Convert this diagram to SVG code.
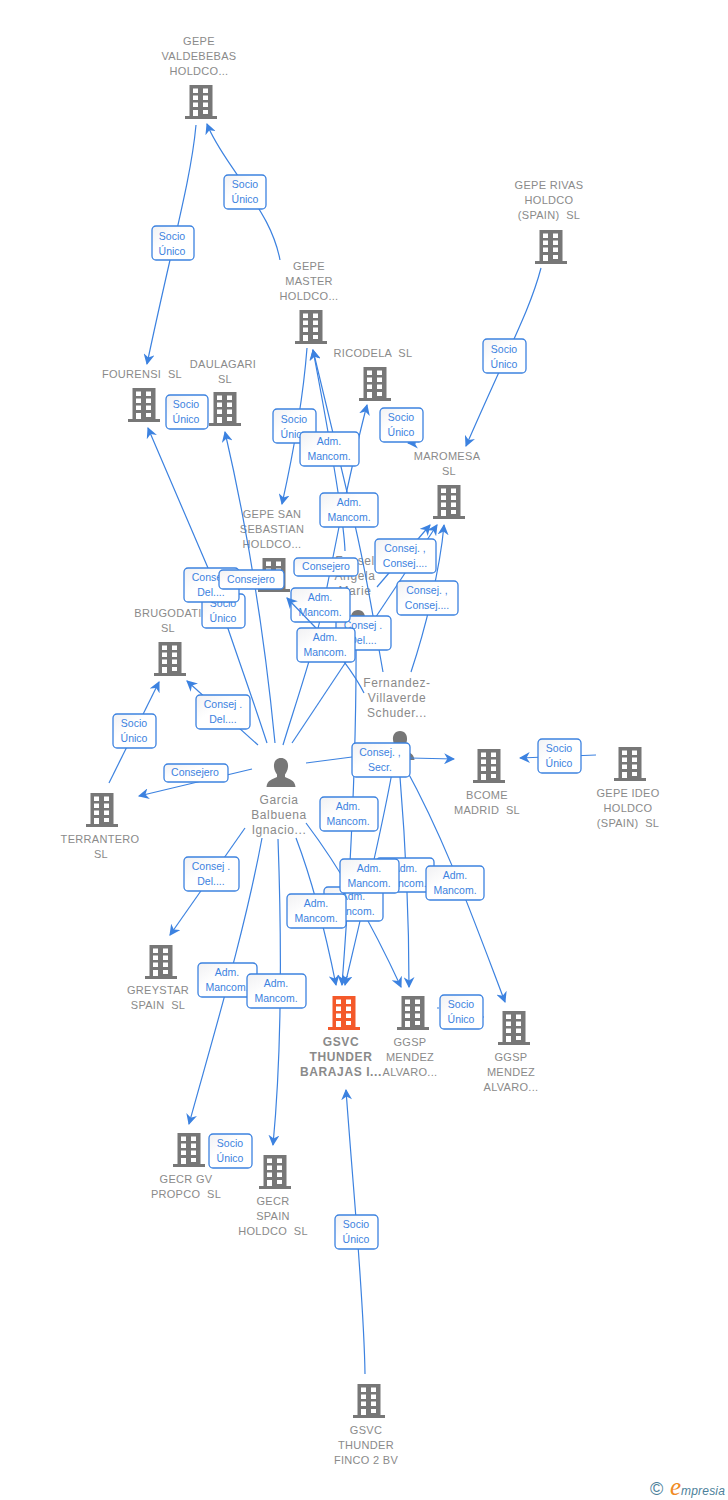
<svg xmlns="http://www.w3.org/2000/svg" width="728" height="1500" viewBox="0 0 728 1500">
<style>
text{font-family:"Liberation Sans",Arial,sans-serif}
.n{font-size:11px;fill:#8a8a8a;text-anchor:middle;letter-spacing:.3px}
.m{font-size:12px;font-weight:700;fill:#8a8a8a;text-anchor:middle;letter-spacing:.6px}
.p{font-size:12px;fill:#8a8a8a;text-anchor:middle;letter-spacing:.6px}
.c path{fill:none;stroke:#3c82e0;stroke-width:1.2;marker-end:url(#a)}
.c path.x{marker-end:none}
.l rect{fill:url(#g);stroke:#3c82e0;stroke-width:1.3}
.l text{font-size:10.5px;fill:#3c82e0;text-anchor:middle}
</style>
<defs>
<linearGradient id="g" x1="0" y1="0" x2="1" y2="1"><stop offset="0" stop-color="#f1f1f3"/><stop offset=".4" stop-color="#fff"/></linearGradient>
<marker id="a" viewBox="0 0 10 10" refX="9" refY="5" markerWidth="11" markerHeight="11" markerUnits="userSpaceOnUse" orient="auto"><path d="M0,0 L10,5 L0,10 L3,5 Z" fill="#3c82e0"/></marker>
<symbol id="b" overflow="visible" viewBox="-17 0 34 35" width="34" height="35"><path fill-rule="evenodd" d="M-11.5,0H11.5V31H16V34H-16V31H-11.5ZM-8,3.5V8H-3V3.5ZM2,3.5V8H7V3.5ZM-8,10.5V15H-3V10.5ZM2,10.5V15H7V10.5ZM-8,17.5V22H-3V17.5ZM2,17.5V22H7V17.5ZM-8,25V31H-3V25ZM2,25V29H7V25Z"/></symbol>
<symbol id="u" overflow="visible" viewBox="-15 0 30 30" width="30" height="30"><path d="M0,0C5,0 7.5,4 7,9C6.7,12.500 5,15 4,16.500V19C8,21 14,22 14.500,29H-14.500C-14,22 -8,21 -4,19V16.500C-5,15 -6.700,12.500 -7,9C-7.500,4 -5,0 0,0Z"/></symbol>
</defs>
<rect width="728" height="1500" fill="#fff"/>
<g id="nodes" fill="#777">
<g id="n1"><use href="#b" x="184" y="85"/><text class="n" x="199" y="45">GEPE</text><text class="n" x="199" y="60">VALDEBEBAS</text><text class="n" x="199" y="75">HOLDCO...</text></g>
<g id="n2"><use href="#b" x="534" y="230"/><text class="n" x="549" y="189">GEPE RIVAS</text><text class="n" x="549" y="204">HOLDCO</text><text class="n" x="549" y="219" xml:space="preserve">(SPAIN)  SL</text></g>
<g id="n3"><use href="#b" x="294" y="310"/><text class="n" x="309" y="270">GEPE</text><text class="n" x="309" y="285">MASTER</text><text class="n" x="309" y="300">HOLDCO...</text></g>
<g id="n4"><use href="#b" x="358" y="367"/><text class="n" x="373" y="357" xml:space="preserve">RICODELA  SL</text></g>
<g id="n5"><use href="#b" x="127" y="388"/><text class="n" x="142" y="378" xml:space="preserve">FOURENSI  SL</text></g>
<g id="n6"><use href="#b" x="208" y="392"/><text class="n" x="223" y="368">DAULAGARI</text><text class="n" x="225" y="383">SL</text></g>
<g id="n7"><use href="#b" x="432" y="485"/><text class="n" x="447" y="460">MAROMESA</text><text class="n" x="449" y="475">SL</text></g>
<g id="n8"><use href="#b" x="257" y="558"/><text class="n" x="272" y="518">GEPE SAN</text><text class="n" x="272" y="533">SEBASTIAN</text><text class="n" x="272" y="548">HOLDCO...</text></g>
<g id="n9"><use href="#b" x="153" y="642"/><text class="n" x="168" y="617">BRUGODATI</text><text class="n" x="168" y="632">SL</text></g>
<g id="n10"><use href="#b" x="472" y="749"/><text class="n" x="487" y="799">BCOME</text><text class="n" x="487" y="814" xml:space="preserve">MADRID  SL</text></g>
<g id="n11"><use href="#b" x="613" y="747"/><text class="n" x="628" y="797">GEPE IDEO</text><text class="n" x="628" y="812">HOLDCO</text><text class="n" x="628" y="827" xml:space="preserve">(SPAIN)  SL</text></g>
<g id="n12"><use href="#b" x="85" y="793"/><text class="n" x="100" y="843">TERRANTERO</text><text class="n" x="101" y="858">SL</text></g>
<g id="n13"><use href="#b" x="144" y="945"/><text class="n" x="158" y="994">GREYSTAR</text><text class="n" x="158" y="1009" xml:space="preserve">SPAIN  SL</text></g>
<g id="n14" fill="#f4592a"><use href="#b" x="327" y="996"/><text class="m" x="341" y="1046">GSVC</text><text class="m" x="341" y="1061">THUNDER</text><text class="m" x="341" y="1076">BARAJAS I...</text></g>
<g id="n15"><use href="#b" x="396" y="996"/><text class="n" x="410" y="1046">GGSP</text><text class="n" x="410" y="1061">MENDEZ</text><text class="n" x="410" y="1076">ALVARO...</text></g>
<g id="n16"><use href="#b" x="497" y="1011"/><text class="n" x="511" y="1061">GGSP</text><text class="n" x="511" y="1076">MENDEZ</text><text class="n" x="511" y="1091">ALVARO...</text></g>
<g id="n17"><use href="#b" x="172" y="1133"/><text class="n" x="186" y="1183">GECR GV</text><text class="n" x="186" y="1198" xml:space="preserve">PROPCO  SL</text></g>
<g id="n18"><use href="#b" x="258" y="1155"/><text class="n" x="273" y="1205">GECR</text><text class="n" x="273" y="1220">SPAIN</text><text class="n" x="273" y="1235" xml:space="preserve">HOLDCO  SL</text></g>
<g id="n19"><use href="#b" x="352" y="1384"/><text class="n" x="366" y="1434">GSVC</text><text class="n" x="366" y="1449">THUNDER</text><text class="n" x="366" y="1464">FINCO 2 BV</text></g>
<g id="p1"><use href="#u" x="266" y="758"/><text class="p" x="279" y="804">Garcia</text><text class="p" x="279" y="819">Balbuena</text><text class="p" x="279" y="834">Ignacio...</text></g>
<g id="p2"><use href="#u" x="343" y="610"/><text class="p" x="355" y="565">Fonsel</text><text class="p" x="355" y="580">Angela</text><text class="p" x="355" y="595">Marie</text></g>
<g id="p3"><use href="#u" x="385" y="731"/><text class="p" x="397" y="687">Fernandez-</text><text class="p" x="397" y="702">Villaverde</text><text class="p" x="397" y="717">Schuder...</text></g>
</g>
<g id="connectors" class="c">
<path d="M280,260C274,228 256,204 238,176C226,158 214,142 207,124"/>
<path d="M196,125C191,180 172,245 147,364"/>
<path d="M541,268C530,310 510,345 466,446"/>
<path d="M307,348C303,400 294,450 282,504"/>
<path d="M383,672C372,610 362,550 347,492C336,445 325,400 313,350"/>
<path d="M345,551C344,520 330,440 313,350"/>
<path d="M283,745C295,705 318,640 327,587L339,527C345,500 355,450 367,405"/>
<path d="M416,443L408,443"/>
<path d="M267,743C250,690 223,617 208,568C190,525 170,480 148,428"/>
<path d="M275,743C265,640 250,540 225,432"/>
<path d="M258,745L187,681"/>
<path d="M109,783L159,682"/>
<path d="M252,769L139,796"/>
<path d="M245,828L170,935"/>
<path d="M262,838C245,930 215,1030 189,1124"/>
<path d="M278,839C282,950 282,1050 273,1145"/>
<path d="M296,838C312,880 325,930 336,985"/>
<path d="M306,823C340,868 370,920 401,987"/>
<path d="M410,758L454,759"/>
<path d="M596,755L520,758"/>
<path d="M393,767C382,830 365,900 345,985"/>
<path d="M400,777C406,850 409,920 409,987"/>
<path d="M405,767C445,840 470,910 505,1002"/>
<path class="x" d="M439,1008L437,1008"/>
<path class="x" d="M484,1017L482,1017"/>
<path d="M365,1374C364,1300 354,1200 346,1090"/>
<path d="M356,630C357,760 350,880 342,985"/>
<path d="M292,743L437,525"/>
<path class="x" d="M364,693C355,675 335,648 315,627"/>
<path d="M377,587L430,525"/>
<path d="M411,672C425,630 440,570 444,525"/>
<path class="x" d="M306,763L352,757"/>
</g>
<g id="labels" class="l">
<g><rect x="224" y="175" width="42" height="34" rx="4"/><text x="245" y="188">Socio</text><text x="245" y="203">Único</text></g>
<g><rect x="152" y="226" width="42" height="34" rx="4"/><text x="172" y="240">Socio</text><text x="172" y="255">Único</text></g>
<g><rect x="483" y="339" width="43" height="34" rx="4"/><text x="504" y="353">Socio</text><text x="504" y="368">Único</text></g>
<g><rect x="273" y="409" width="43" height="34" rx="4"/><text x="294" y="423">Socio</text><text x="294" y="438">Único</text></g>
<g><rect x="166" y="395" width="42" height="34" rx="4"/><text x="186" y="408">Socio</text><text x="186" y="423">Único</text></g>
<g><rect x="380" y="408" width="43" height="34" rx="4"/><text x="401" y="421">Socio</text><text x="401" y="436">Único</text></g>
<g><rect x="300" y="432" width="59" height="34" rx="4"/><text x="329" y="445">Adm.</text><text x="329" y="460">Mancom.</text></g>
<g><rect x="320" y="493" width="58" height="34" rx="4"/><text x="349" y="506">Adm.</text><text x="349" y="521">Mancom.</text></g>
<g><rect x="375" y="539" width="61" height="34" rx="4"/><text x="405" y="552">Consej. ,</text><text x="405" y="567">Consej....</text></g>
<g><rect x="397" y="581" width="61" height="34" rx="4"/><text x="427" y="594">Consej. ,</text><text x="427" y="609">Consej....</text></g>
<g><rect x="336" y="616" width="55" height="34" rx="4"/><text x="363" y="629">Consej .</text><text x="363" y="644">Del....</text></g>
<g><rect x="202" y="594" width="43" height="34" rx="4"/><text x="223" y="607">Socio</text><text x="223" y="622">Único</text></g>
<g><rect x="184" y="568" width="55" height="34" rx="4"/><text x="211" y="581">Consej .</text><text x="211" y="596">Del....</text></g>
<g><rect x="219" y="570" width="65" height="19" rx="4"/><text x="251" y="583">Consejero</text></g>
<g><rect x="294" y="558" width="64" height="18" rx="4"/><text x="326" y="570">Consejero</text></g>
<g><rect x="291" y="588" width="59" height="34" rx="4"/><text x="320" y="601">Adm.</text><text x="320" y="616">Mancom.</text></g>
<g><rect x="297" y="628" width="58" height="34" rx="4"/><text x="325" y="641">Adm.</text><text x="325" y="656">Mancom.</text></g>
<g><rect x="196" y="695" width="54" height="34" rx="4"/><text x="223" y="708">Consej .</text><text x="223" y="723">Del....</text></g>
<g><rect x="113" y="714" width="43" height="34" rx="4"/><text x="134" y="727">Socio</text><text x="134" y="742">Único</text></g>
<g><rect x="164" y="764" width="64" height="18" rx="4"/><text x="195" y="776">Consejero</text></g>
<g><rect x="352" y="743" width="58" height="34" rx="4"/><text x="380" y="756">Consej. ,</text><text x="380" y="771">Secr.</text></g>
<g><rect x="538" y="739" width="43" height="34" rx="4"/><text x="559" y="752">Socio</text><text x="559" y="767">Único</text></g>
<g><rect x="320" y="797" width="58" height="34" rx="4"/><text x="348" y="810">Adm.</text><text x="348" y="825">Mancom.</text></g>
<g><rect x="184" y="857" width="55" height="34" rx="4"/><text x="211" y="870">Consej .</text><text x="211" y="885">Del....</text></g>
<g><rect x="376" y="858" width="58" height="34" rx="4"/><text x="405" y="872">Adm.</text><text x="405" y="887">Mancom.</text></g>
<g><rect x="324" y="887" width="59" height="34" rx="4"/><text x="353" y="900">Adm.</text><text x="353" y="915">Mancom.</text></g>
<g><rect x="340" y="859" width="59" height="34" rx="4"/><text x="369" y="872">Adm.</text><text x="369" y="887">Mancom.</text></g>
<g><rect x="426" y="866" width="58" height="34" rx="4"/><text x="455" y="879">Adm.</text><text x="455" y="894">Mancom.</text></g>
<g><rect x="287" y="894" width="59" height="34" rx="4"/><text x="316" y="907">Adm.</text><text x="316" y="922">Mancom.</text></g>
<g><rect x="198" y="963" width="59" height="34" rx="4"/><text x="227" y="976">Adm.</text><text x="227" y="991">Mancom.</text></g>
<g><rect x="247" y="974" width="59" height="34" rx="4"/><text x="276" y="987">Adm.</text><text x="276" y="1002">Mancom.</text></g>
<g><rect x="440" y="995" width="43" height="34" rx="4"/><text x="461" y="1008">Socio</text><text x="461" y="1023">Único</text></g>
<g><rect x="209" y="1134" width="43" height="34" rx="4"/><text x="230" y="1147">Socio</text><text x="230" y="1162">Único</text></g>
<g><rect x="335" y="1215" width="43" height="34" rx="4"/><text x="356" y="1228">Socio</text><text x="356" y="1243">Único</text></g>
</g>
<g id="connectors-top" class="c"><path d="M315,627L287,598"/></g>
<g id="logo"><text x="650" y="1495" font-size="18" fill="#4d7f9a">©</text><text x="670" y="1495" font-size="25" font-style="italic" fill="#f08a24" style="font-family:'Liberation Serif',serif">e</text><text x="681" y="1495" font-size="12" font-style="italic" fill="#4d7f9a" letter-spacing=".2">mpresia</text></g>
</svg>
